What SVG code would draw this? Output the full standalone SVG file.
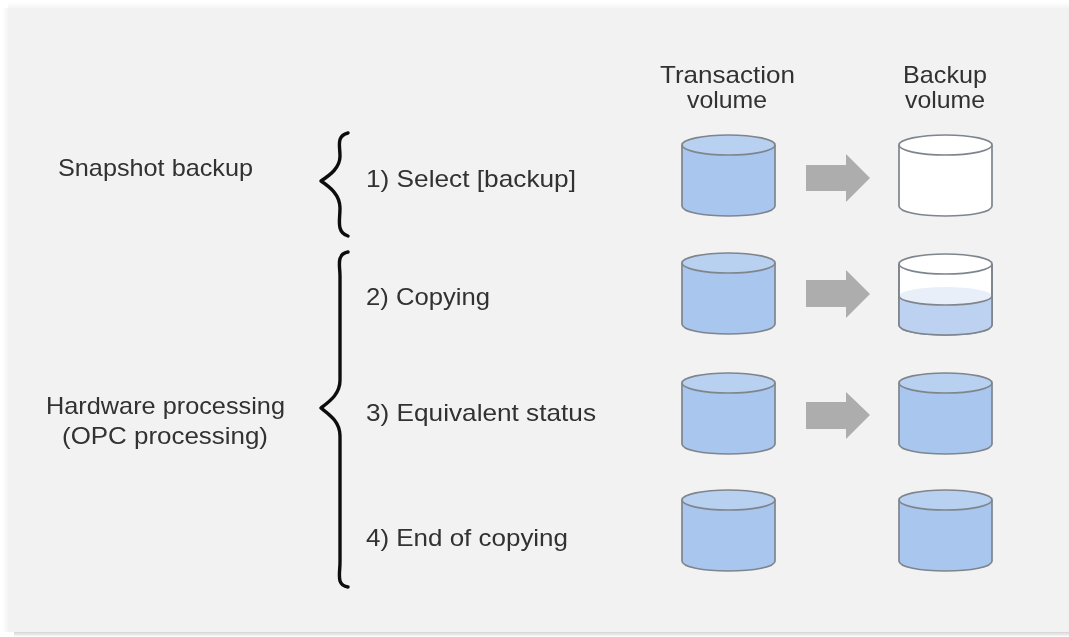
<svg xmlns="http://www.w3.org/2000/svg" width="1069" height="637" viewBox="0 0 1069 637">
<defs>
<filter id="soft" x="-5%" y="-5%" width="110%" height="110%"><feGaussianBlur stdDeviation="0.55"/></filter>
<linearGradient id="l" x1="0" x2="1" y1="0" y2="0"><stop offset="0" stop-color="#fff"/><stop offset="1" stop-color="#f2f2f2"/></linearGradient>
<linearGradient id="t" x1="0" x2="0" y1="0" y2="1"><stop offset="0" stop-color="#fff"/><stop offset="1" stop-color="#f2f2f2"/></linearGradient>
<linearGradient id="b" x1="0" x2="0" y1="0" y2="1"><stop offset="0" stop-color="#d4d4d4"/><stop offset="1" stop-color="#fff"/></linearGradient>
<path id="body" d="M0 10V71C0 77 21 81 46.500 81S93 77 93 71V10"/>
</defs>
<style>
text{font-family:"Liberation Sans",Arial,sans-serif;font-size:24px;fill:#303030}
.cyl{stroke:#7f858d;stroke-width:1.700}
.full{fill:#a9c6ee}
.top{fill:#b9d1f0}
.white{fill:#fff}
.arrow{fill:#adadad}
.brace{fill:none;stroke:#0c0c0c;stroke-width:3.400;stroke-linecap:round;stroke-linejoin:round}
</style>
<rect width="1069" height="637" fill="#fff"/>
<rect x="8" y="8" width="1061" height="624" fill="#f2f2f2"/>
<rect x="2" y="8" width="7" height="624" fill="url(#l)"/>
<rect x="8" y="2" width="1061" height="7" fill="url(#t)"/>
<rect x="14" y="632" width="1055" height="5" fill="url(#b)"/>
<g filter="url(#soft)">
<g id="connectors">
<path class="arrow" d="M806 165H846V154L870 178L846 202V191H806Z"/>
<path class="arrow" d="M806 280H846V270L870 294L846 318V307H806Z"/>
<path class="arrow" d="M806 402H846V392L870 415L846 439V429H806Z"/>
</g>
<g id="label-snapshot"><text x="58" y="176" textLength="195" lengthAdjust="spacingAndGlyphs">Snapshot backup</text></g>
<g id="label-hardware"><text x="46" y="414" textLength="239" lengthAdjust="spacingAndGlyphs">Hardware processing</text><text x="62" y="444" textLength="206" lengthAdjust="spacingAndGlyphs">(OPC processing)</text></g>
<g id="brace-snapshot"><path class="brace" d="M348 133C336 136 340 146 340 156C340 168 330 175 321 181C330 187 340 195 340 208C340 220 336 232 348 236"/></g>
<g id="brace-hardware"><path class="brace" d="M348 252C336 254 340 266 340 276V380C340 394 330 401 321 408C330 415 340 422 340 436V562C340 574 336 585 348 587"/></g>
<g id="step-1"><text x="366" y="187" textLength="210" lengthAdjust="spacingAndGlyphs">1) Select [backup]</text></g>
<g id="step-2"><text x="366" y="305" textLength="124" lengthAdjust="spacingAndGlyphs">2) Copying</text></g>
<g id="step-3"><text x="366" y="421" textLength="230" lengthAdjust="spacingAndGlyphs">3) Equivalent status</text></g>
<g id="step-4"><text x="366" y="546" textLength="202" lengthAdjust="spacingAndGlyphs">4) End of copying</text></g>
<g id="head-transaction"><text x="660" y="83" textLength="135" lengthAdjust="spacingAndGlyphs">Transaction</text><text x="687" y="108" textLength="80" lengthAdjust="spacingAndGlyphs">volume</text></g>
<g id="head-backup"><text x="903" y="83" textLength="84" lengthAdjust="spacingAndGlyphs">Backup</text><text x="905" y="108" textLength="80" lengthAdjust="spacingAndGlyphs">volume</text></g>
<g id="tv1" transform="translate(682 135)"><use href="#body" class="cyl full"/><ellipse class="cyl top" cx="46.500" cy="10" rx="46.500" ry="10"/></g>
<g id="bv1" transform="translate(899 135)"><use href="#body" class="cyl white"/><ellipse class="cyl white" cx="46.500" cy="10" rx="46.500" ry="10"/></g>
<g id="tv2" transform="translate(682 253)"><use href="#body" class="cyl full"/><ellipse class="cyl top" cx="46.500" cy="10" rx="46.500" ry="10"/></g>
<g id="bv2" transform="translate(899 254)"><use href="#body" class="cyl white"/><path d="M0 42V71C0 77 21 81 46.500 81S93 77 93 71V42Z" fill="#bcd2f0"/><ellipse cx="46.500" cy="42" rx="46.500" ry="9" fill="#e8eff9"/><path d="M0 42C0 47 21 51 46.500 51S93 47 93 42" fill="none" class="cyl"/><use href="#body" class="cyl" fill="none"/><ellipse class="cyl white" cx="46.500" cy="10" rx="46.500" ry="10"/></g>
<g id="tv3" transform="translate(682 373)"><use href="#body" class="cyl full"/><ellipse class="cyl top" cx="46.500" cy="10" rx="46.500" ry="10"/></g>
<g id="bv3" transform="translate(899 373)"><use href="#body" class="cyl full"/><ellipse class="cyl top" cx="46.500" cy="10" rx="46.500" ry="10"/></g>
<g id="tv4" transform="translate(682 490)"><use href="#body" class="cyl full"/><ellipse class="cyl top" cx="46.500" cy="10" rx="46.500" ry="10"/></g>
<g id="bv4" transform="translate(899 490)"><use href="#body" class="cyl full"/><ellipse class="cyl top" cx="46.500" cy="10" rx="46.500" ry="10"/></g>
</g>
</svg>
